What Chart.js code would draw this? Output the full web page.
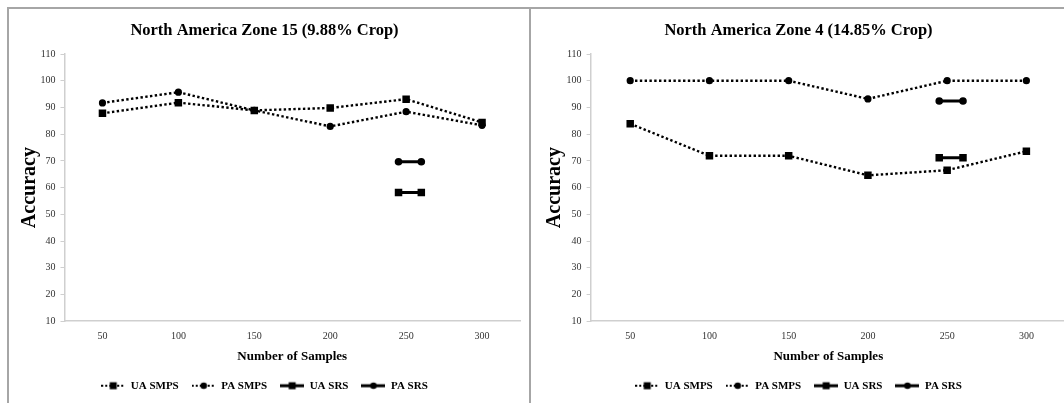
<!DOCTYPE html>
<html>
<head>
<meta charset="utf-8">
<script src="https://cdn.jsdelivr.net/npm/chart.js@4"></script>
<style>
  html, body { margin: 0; padding: 0; background: #fff; overflow: hidden; width: 1064px; height: 403px; }
  .panel { position: absolute; top: 7px; border-top: 2px solid #a6a6a6; border-left: 2px solid #a6a6a6; height: 400px; overflow: hidden; }
  #leftPanel { left: 7px; width: 520px; border-right: 2px solid #a6a6a6; }
  #rightPanel { left: 529px; width: 544px; }
  canvas { display: block; }
</style>
</head>
<body>
<div class="panel" id="leftPanel"><canvas id="zone15" width="520" height="394"></canvas></div>
<div class="panel" id="rightPanel"><canvas id="zone4" width="544" height="394"></canvas></div>
<script>
// sample sizes on the x axis
const sampleSizes = [50, 100, 150, 200, 250, 300];
const yTicks = [10, 20, 30, 40, 50, 60, 70, 80, 90, 100, 110];
const seriesNames = ['UA SMPS', 'PA SMPS', 'UA SRS', 'PA SRS'];

// SRS is drawn as a short flat bar near 250 samples
const srsX = [245, 260];

// North America Zone 15
const z15UaSmps = [87.8, 91.8, 88.9, 89.8, 93.1, 84.4];
const z15PaSmps = [91.7, 95.7, 88.9, 82.9, 88.4, 83.3];
const z15UaSrs = [58.2, 58.2];
const z15PaSrs = [69.7, 69.7];

// North America Zone 4
const z4UaSmps = [83.9, 71.9, 71.9, 64.6, 66.5, 73.6];
const z4PaSmps = [100, 100, 100, 93.2, 100, 100];
const z4UaSrs = [71.2, 71.2];
const z4PaSrs = [92.4, 92.4];

const FONT = '"Liberation Serif", "Times New Roman", serif';
Chart.defaults.font.family = FONT;

// small legend icons: a line with the marker in the middle
function makeIcon(dotted, square) {
    const c = document.createElement('canvas');
    c.width = 24; c.height = 10;
    const ctx = c.getContext('2d');
    ctx.strokeStyle = '#000';
    ctx.fillStyle = '#000';
    ctx.lineWidth = dotted ? 2 : 3;
    if (dotted) ctx.setLineDash([2, 2]);
    ctx.beginPath();
    ctx.moveTo(0, 5);
    ctx.lineTo(24, 5);
    ctx.stroke();
    ctx.setLineDash([]);
    if (square) {
        ctx.fillRect(8.5, 1.5, 7, 7);
    } else {
        ctx.beginPath();
        ctx.arc(12, 5, 3.3, 0, Math.PI * 2);
        ctx.fill();
    }
    return c;
}
const legendIcons = [makeIcon(true, true), makeIcon(true, false), makeIcon(false, true), makeIcon(false, false)];

function pts(xs, ys) {
    return xs.map((x, i) => ({ x: x, y: ys[i] }));
}

function buildChart(id, title, ua, pa, uaSrs, paSrs, yAxisWidth, yTitlePad) {
    const ctx = document.getElementById(id).getContext('2d');
    const smps = { borderColor: '#000', backgroundColor: '#000', borderWidth: 2.4, borderDash: [2.4, 2.4], pointBorderWidth: 0 };
    const srs = { borderColor: '#000', backgroundColor: '#000', borderWidth: 3, pointBorderWidth: 0 };

    return new Chart(ctx, {
        type: 'line',
        data: {
            datasets: [
                Object.assign({ label: seriesNames[0], data: pts(sampleSizes, ua), pointStyle: 'rect', pointRadius: 5.3 }, smps),
                Object.assign({ label: seriesNames[1], data: pts(sampleSizes, pa), pointStyle: 'circle', pointRadius: 3.6 }, smps),
                Object.assign({ label: seriesNames[2], data: pts(srsX, uaSrs), pointStyle: 'rect', pointRadius: 5.3 }, srs),
                Object.assign({ label: seriesNames[3], data: pts(srsX, paSrs), pointStyle: 'circle', pointRadius: 3.8 }, srs)
            ]
        },
        options: {
            responsive: false,
            animation: false,
            devicePixelRatio: 1,
            layout: { padding: { left: 0, right: 9, top: 0, bottom: 1.8 } },
            plugins: {
                tooltip: { enabled: false },
                title: {
                    display: true,
                    text: title,
                    color: '#000',
                    font: { size: 16.5, weight: 'bold' },
                    padding: { top: 12, bottom: 13.2 }
                },
                legend: {
                    position: 'bottom',
                    labels: {
                        usePointStyle: true,
                        pointStyleWidth: 24,
                        padding: 13,
                        color: '#000',
                        font: { size: 11, weight: 'bold' },
                        generateLabels: (chart) => {
                            const items = Chart.defaults.plugins.legend.labels.generateLabels(chart);
                            items.forEach((it, i) => { it.pointStyle = legendIcons[i]; });
                            return items;
                        }
                    }
                }
            },
            scales: {
                x: {
                    type: 'linear',
                    min: 25,
                    max: 325,
                    afterBuildTicks: (scale) => { scale.ticks = sampleSizes.map(v => ({ value: v })); },
                    afterFit: (scale) => { scale.height = 46; },
                    grid: { display: false, drawTicks: false },
                    border: { color: '#cfcfcf', width: 1.5 },
                    ticks: { color: '#333', font: { size: 10 }, padding: 9, maxRotation: 0 },
                    title: {
                        display: true,
                        text: 'Number of Samples',
                        color: '#000',
                        font: { size: 13, weight: 'bold' },
                        padding: { top: 0, bottom: 3.2 }
                    }
                },
                y: {
                    min: 10,
                    max: 110,
                    afterBuildTicks: (scale) => { scale.ticks = yTicks.map(v => ({ value: v })); },
                    afterFit: (scale) => { scale.width = yAxisWidth; },
                    grid: { display: true, drawOnChartArea: false, drawTicks: true, tickLength: 4, color: '#cfcfcf', lineWidth: 1 },
                    border: { color: '#cfcfcf', width: 1.5 },
                    ticks: { color: '#333', font: { size: 10 }, padding: 5 },
                    title: {
                        display: true,
                        text: 'Accuracy',
                        color: '#000',
                        font: { size: 20, weight: 'bold' },
                        padding: { top: yTitlePad, bottom: 0 }
                    }
                }
            }
        }
    });
}

buildChart('zone15', 'North America Zone 15 (9.88% Crop)', z15UaSmps, z15PaSmps, z15UaSrs, z15PaSrs, 55.5, 9);
buildChart('zone4', 'North America Zone 4 (14.85% Crop)', z4UaSmps, z4PaSmps, z4UaSrs, z4PaSrs, 59.6, 12);
</script>
</body>
</html>
